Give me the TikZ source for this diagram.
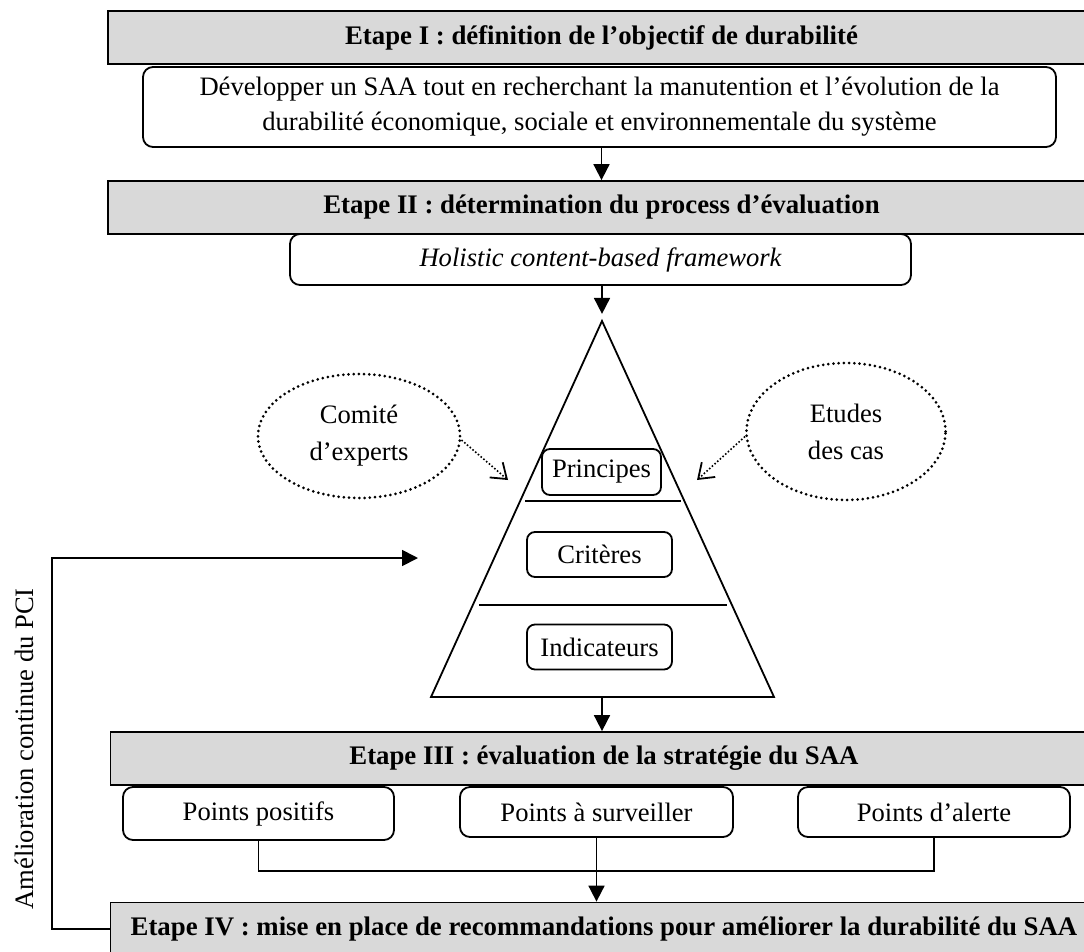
\documentclass[tikz,border=0pt]{standalone}
\usepackage{fontspec}
\setmainfont{Liberation Serif}
\usetikzlibrary{shapes.geometric, arrows.meta, positioning}
\tikzstyle{etape} = [rectangle, minimum width=987pt, minimum height=53pt, text centered, draw=black, line width=1.8pt, fill=black!15, font=\bfseries\fontsize{26.8}{32}\selectfont]
\tikzstyle{contenu} = [rectangle, rounded corners=10pt, text centered, align=center, draw=black, line width=1.8pt, fill=white, font=\fontsize{26.6}{35}\selectfont]
\tikzstyle{niveau} = [rectangle, rounded corners=8pt, minimum width=145pt, minimum height=45pt, text centered, draw=black, line width=1.8pt, font=\fontsize{26.6}{32}\selectfont]
\tikzstyle{source} = [ellipse, align=center, draw=black, line width=3pt, line cap=round, dash pattern=on 0pt off 5.2pt, font=\fontsize{26.6}{37}\selectfont]
\tikzstyle{arrow} = [line width=1.8pt, -{Triangle[length=16pt, width=16pt]}]
\tikzstyle{dotarrow} = [line width=1.6pt, dotted, -{Straight Barb[length=14pt, width=20pt, line width=1.8pt]}]
\tikzstyle{line} = [line width=1.8pt]

\begin{document}
\begin{tikzpicture}[x=1pt, y=-1pt, node distance=3pt]
\useasboundingbox (0,0) rectangle (1084,951);
\clip (0,0) rectangle (1084,951);

\node (etapeI) [etape] at (601.5,37.5) {Etape I : définition de l’objectif de durabilité};
\node (objectif) [contenu, minimum width=913pt, minimum height=80pt] at (599.5,107) {Développer un SAA tout en recherchant la manutention et l’évolution de la\\durabilité économique, sociale et environnementale du système};

\node (etapeII) [etape] at (601.5,207.5) {Etape II : détermination du process d’évaluation};
\node (holistic) [contenu, minimum width=621pt, minimum height=51pt] at (600.5,259.5) {\itshape Holistic content-based framework};

\draw [arrow] (objectif.south -| etapeII.north) -- (etapeII.north);

% pyramide
\coordinate (sommet) at (602,321);
\coordinate (baseg) at (431,697);
\coordinate (based) at (774,697);
\coordinate (basem) at (602,697);
\draw [line, line join=miter] (sommet) -- (baseg) -- (based) -- cycle;
\draw [line] (525,501) -- (681,501);
\draw [line] (479,605) -- (727,605);

\draw [arrow] (holistic.south -| sommet) -- ++(0,28);

\node (principes) [niveau, minimum width=119pt, minimum height=46pt] at (601.5,472) {Principes};
\node (criteres) [niveau] at (599.5,554.5) {Critères};
\node (indicateurs) [niveau] at (599.5,647) {Indicateurs};

\node (comite) [source, minimum width=202pt, minimum height=124pt] at (359,436) {Comité\\d’experts};
\node (etudes) [source, minimum width=199pt, minimum height=137pt] at (846,431.5) {Etudes\\des cas};

\coordinate (versg) at (508,480);
\coordinate (versd) at (697,480);
\draw [dotarrow] (comite.east) ++(0,4) -- (versg);
\draw [dotarrow] (etudes.west) ++(0,5) -- (versd);

\node (etapeIII) [etape] at (604,758.5) {Etape III : évaluation de la stratégie du SAA};
\draw [arrow] (basem) -- (basem |- etapeIII.north);

\node (positifs) [contenu, minimum width=271pt, minimum height=53pt] at (258.5,813.5) {Points positifs};
\node (surveiller) [contenu, minimum width=273pt, minimum height=50pt] at (596.5,812) {Points à surveiller};
\node (alerte) [contenu, minimum width=272pt, minimum height=50pt] at (934,812) {Points d’alerte};

\node (etapeIV) [etape] at (604,929) {Etape IV : mise en place de recommandations pour améliorer la durabilité du SAA};

\draw [line] (positifs.south) -- ++(0,30) -| (alerte.south);
\draw [arrow] (surveiller.south) -- (surveiller.south |- etapeIV.north);

% boucle d'amelioration
\coordinate (coin) at (52,558);
\coordinate (retour) at (418,558);
\draw [arrow] (etapeIV.west) -| (coin) -- (retour);
\node (pci) [rotate=90, font=\fontsize{26.6}{32}\selectfont] at (24,749) {Amélioration continue du PCI};

\end{tikzpicture}
\end{document}
